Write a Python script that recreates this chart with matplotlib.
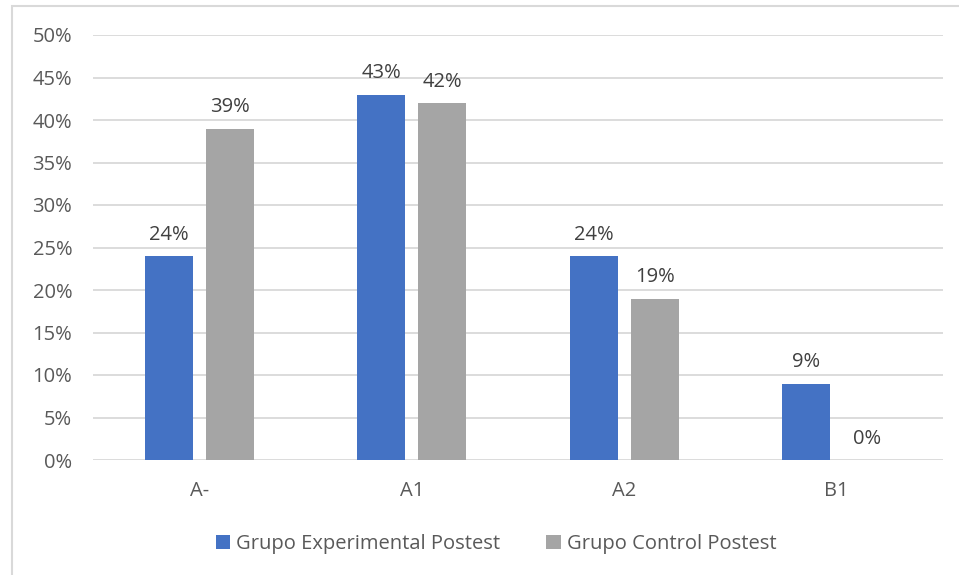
import matplotlib
matplotlib.use("Agg")
import matplotlib.pyplot as plt
import numpy as np
from matplotlib.patches import Rectangle

categories = ["A-", "A1", "A2", "B1"]
experimental = [24, 43, 24, 9]
control = [39, 42, 19, 0]
series_names = ["Grupo Experimental Postest", "Grupo Control Postest"]
yticks = [0, 5, 10, 15, 20, 25, 30, 35, 40, 45, 50]

W, H = 959, 575
fig = plt.figure(figsize=(W / 100, H / 100), dpi=100)
plt.rcParams['font.family'] = ['Open Sans', 'DejaVu Sans']
txt = '#595959'
fs = 14.5

# outer chart border
fig.patches.append(Rectangle((12 / W, -0.05), 1.1, 1 - 6 / H + 0.05, transform=fig.transFigure,
                             fill=False, edgecolor='#d9d9d9', linewidth=1.5))

left, right = 93 / W, 943 / W
bottom, top = 1 - 460 / H, 1 - 35 / H
ax = fig.add_axes([left, bottom, right - left, top - bottom])

x = np.arange(len(categories))
bw = 0.226
gap = 0.061
off = (bw + gap) / 2
b1 = ax.bar(x - off, experimental, bw, color='#4472C4', label=series_names[0], zorder=3)
b2 = ax.bar(x + off, control, bw, color='#A5A5A5', label=series_names[1], zorder=3)

for bars, vals in ((b1, experimental), (b2, control)):
    for r, v in zip(bars, vals):
        ax.annotate(f"{v}%", (r.get_x() + r.get_width() / 2, v), xytext=(0, 8),
                    textcoords='offset points', ha='center', va='bottom',
                    fontsize=fs, color='#404040')

ax.set_xlim(-0.5, len(categories) - 0.5)
ax.set_ylim(0, 50)
ax.set_yticks(yticks)
ax.set_yticklabels([f"{t}%" for t in yticks])
ax.set_xticks(x)
ax.set_xticklabels(categories)
ax.tick_params(axis='both', length=0, labelsize=fs, colors=txt)
ax.tick_params(axis='y', pad=15)
ax.tick_params(axis='x', pad=15)
ax.grid(axis='y', color='#d9d9d9', linewidth=1.3, zorder=0)
for s in ax.spines.values():
    s.set_visible(False)

fig.legend(handles=[b1, b2], labels=series_names, loc='center',
           bbox_to_anchor=(496 / W, 1 - 544 / H), ncol=2, frameon=False,
           fontsize=fs, labelcolor=txt, handlelength=0.7, handleheight=0.7,
           handletextpad=0.3, columnspacing=2.3)

fig.savefig("out.png", dpi=100)
